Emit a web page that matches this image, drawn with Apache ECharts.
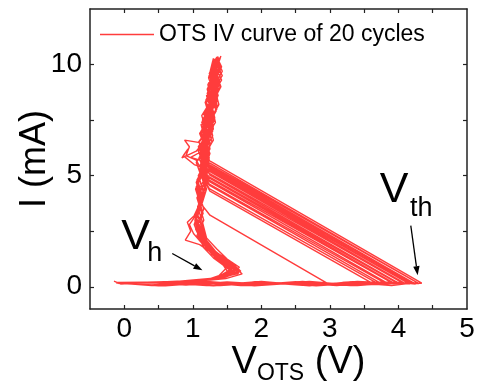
<!DOCTYPE html>
<html>
<head>
<meta charset="utf-8">
<script src="https://cdn.jsdelivr.net/npm/echarts@6/dist/echarts.min.js"></script>
<style>
  html, body { margin: 0; padding: 0; background: #fff; }
  #main { width: 479px; height: 390px; }
</style>
</head>
<body>
<div id="main"></div>
<script>
// [V, I(mA)] per sweep
const c01 = [[-0.15,0.25],[-0.05,0.12],[0.3,0.2],[0.9,0.08],[1.5,0.22],[2.1,0.1],[2.7,0.2],[3.3,0.07],[3.9,0.18],[4.34,0.16],
  [1.26,5.64],[1.12,5.95],[1.22,6.6],[1.15,7.3],[1.27,8.0],[1.21,8.7],[1.33,9.4],[1.27,9.9],[1.37,10.36],
  [1.30,9.7],[1.39,9.1],[1.25,8.3],[1.31,7.5],[1.17,6.6],[1.22,5.7],[1.09,4.9],[1.17,4.1],[1.06,3.3],[1.14,2.6],[1.19,2.0],[1.31,1.5],[1.47,1.1],[1.62,0.74],[1.43,0.45],[1.23,0.31],[0.6,0.21],[-0.08,0.17]];
const c02 = [[0.4,0.06],[1.1,0.2],[1.8,0.05],[2.5,0.18],[3.2,0.09],[3.8,0.22],[4.30,0.14],
  [1.25,5.56],[0.97,5.82],[1.19,6.2],[1.10,6.9],[1.25,7.6],[1.18,8.3],[1.31,9.0],[1.24,9.6],[1.34,10.22],
  [1.41,9.8],[1.28,9.2],[1.35,8.5],[1.20,7.8],[1.27,7.0],[1.12,6.2],[1.19,5.3],[1.05,4.5],[1.13,3.7],[1.03,2.9],[1.11,2.3],[1.23,1.8],[1.39,1.35],[1.56,0.95],[1.66,0.6],[1.36,0.38],[1.18,0.28],[0.5,0.18],[-0.1,0.2]];
const c03 = [[0.7,0.22],[1.4,0.06],[2.1,0.2],[2.8,0.04],[3.5,0.19],[4.28,0.17],
  [1.24,5.50],[1.16,5.8],[1.08,6.3],[1.20,6.8],[1.13,7.4],[1.28,8.1],[1.22,8.8],[1.36,9.5],[1.30,10.28],
  [1.25,9.6],[1.33,8.9],[1.22,8.0],[1.29,7.2],[1.14,6.4],[1.21,5.5],[1.07,4.7],[1.15,3.9],[1.04,3.1],[1.12,2.5],[1.16,1.9],[1.29,1.45],[1.44,1.0],[1.52,0.62],[1.30,0.34],[0.8,0.2],[0.0,0.15]];
const c04 = [[0.6,0.04],[1.3,0.2],[2.0,0.08],[2.7,0.24],[3.4,0.06],[4.0,0.2],[4.25,0.12],
  [1.23,5.45],[1.14,6.0],[1.24,6.7],[1.17,7.4],[1.29,8.2],[1.23,8.9],[1.35,9.6],[1.29,10.1],[1.40,10.3],
  [1.33,9.9],[1.42,9.3],[1.27,8.6],[1.34,7.9],[1.19,7.1],[1.25,6.2],[1.10,5.3],[1.18,4.4],[1.07,3.6],[1.15,2.8],[1.20,2.2],[1.35,1.7],[1.50,1.25],[1.68,0.88],[1.55,0.55],[1.28,0.33],[0.7,0.22],[-0.05,0.19]];
const c05 = [[0.5,0.2],[1.2,0.05],[1.9,0.22],[2.6,0.07],[3.3,0.2],[3.9,0.06],[4.22,0.18],
  [1.24,5.40],[1.17,5.9],[1.09,6.5],[1.23,7.1],[1.16,7.8],[1.30,8.5],[1.25,9.2],[1.38,9.8],[1.32,10.25],
  [1.27,9.5],[1.36,8.8],[1.23,8.1],[1.28,7.3],[1.13,6.5],[1.20,5.6],[1.06,4.8],[1.14,4.0],[1.02,3.2],[0.92,2.9],[0.97,2.5],[0.89,2.1],[1.10,1.9],[1.24,1.6],[1.36,1.2],[1.49,0.85],[1.38,0.5],[1.21,0.32],[0.5,0.19],[-0.1,0.16]];
const c06 = [[0.4,0.08],[1.0,0.24],[1.7,0.06],[2.4,0.2],[3.1,0.05],[3.7,0.22],[4.20,0.15],
  [1.25,5.35],[1.10,5.7],[1.19,6.4],[1.12,7.0],[1.26,7.7],[1.19,8.4],[1.32,9.1],[1.26,9.7],[1.35,10.18],
  [1.42,9.9],[1.30,9.3],[1.37,8.6],[1.21,7.9],[1.28,7.1],[1.13,6.3],[1.20,5.4],[1.06,4.6],[1.14,3.8],[1.05,3.0],[1.13,2.4],[1.21,1.85],[1.37,1.4],[1.58,1.05],[1.70,0.7],[1.47,0.42],[1.25,0.3],[0.6,0.2],[-0.06,0.18]];
const c07 = [[0.6,0.22],[1.3,0.06],[2.0,0.19],[2.7,0.05],[3.4,0.24],[4.17,0.13],
  [1.24,5.30],[1.15,5.75],[1.23,6.5],[1.14,7.2],[1.28,7.9],[1.20,8.6],[1.34,9.3],[1.28,9.8],[1.38,10.32],
  [1.31,9.8],[1.40,9.2],[1.26,8.4],[1.32,7.6],[1.16,6.8],[1.24,5.9],[1.08,5.0],[1.17,4.2],[1.05,3.4],[1.13,2.7],[1.18,2.1],[1.32,1.6],[1.52,1.2],[1.63,0.82],[1.40,0.48],[1.22,0.32],[0.4,0.2],[-0.11,0.19]];
const c08 = [[0.5,0.05],[1.1,0.2],[1.8,0.06],[2.5,0.23],[3.2,0.08],[3.8,0.2],[4.14,0.16],
  [1.24,5.25],[1.02,5.5],[0.86,5.9],[0.93,6.2],[0.84,5.8],[1.05,6.1],[1.18,6.6],[1.12,7.3],[1.27,8.0],[1.21,8.7],[1.34,9.4],[1.30,10.2],
  [1.24,9.5],[1.33,8.8],[1.20,8.0],[1.27,7.2],[1.12,6.4],[1.19,5.5],[1.05,4.7],[1.13,3.9],[1.04,3.1],[1.12,2.5],[1.17,1.95],[1.28,1.5],[1.42,1.05],[1.58,0.7],[1.33,0.38],[0.7,0.21],[-0.02,0.16]];
const c09 = [[0.6,0.18],[1.3,0.04],[2.0,0.22],[2.7,0.07],[3.4,0.21],[4.10,0.14],
  [1.25,5.18],[1.13,5.6],[1.22,6.3],[1.15,7.0],[1.29,7.7],[1.22,8.4],[1.35,9.1],[1.29,9.7],[1.39,10.3],
  [1.34,10.0],[1.43,9.5],[1.28,8.8],[1.35,8.0],[1.18,7.2],[1.26,6.4],[1.11,5.5],[1.19,4.6],[1.08,3.8],[1.16,3.0],[1.07,2.4],[1.19,1.9],[1.33,1.45],[1.54,1.0],[1.66,0.66],[1.45,0.4],[1.24,0.3],[0.5,0.2],[-0.09,0.17]];
const c10 = [[0.5,0.06],[1.2,0.23],[1.9,0.05],[2.6,0.2],[3.3,0.06],[4.06,0.17],
  [1.24,5.10],[1.16,5.5],[1.08,6.1],[1.21,6.8],[1.14,7.5],[1.27,8.2],[1.21,8.9],[1.33,9.6],[1.29,10.15],
  [1.23,9.4],[1.32,8.6],[1.18,7.8],[1.26,7.0],[1.10,6.2],[1.17,5.3],[1.04,4.4],[1.12,3.6],[1.02,2.8],[1.10,2.2],[1.16,1.75],[1.30,1.3],[1.47,0.92],[1.60,0.6],[1.36,0.36],[0.6,0.19],[-0.04,0.18]];
const c11 = [[0.6,0.21],[1.3,0.07],[2.0,0.24],[2.7,0.05],[3.4,0.2],[4.02,0.13],
  [1.25,5.02],[1.18,5.4],[1.25,6.0],[1.16,6.7],[1.30,7.4],[1.23,8.1],[1.36,8.8],[1.30,9.5],[1.41,10.38],
  [1.35,9.9],[1.27,9.2],[1.36,8.4],[1.22,7.6],[1.29,6.8],[1.15,6.0],[1.21,5.1],[1.08,4.3],[1.16,3.5],[1.06,2.8],[1.14,2.2],[1.25,1.7],[1.41,1.3],[1.57,0.95],[1.67,0.62],[1.42,0.4],[1.2,0.29],[0.5,0.2],[-0.12,0.18]];
const c12 = [[0.5,0.04],[1.2,0.21],[1.9,0.07],[2.6,0.22],[3.3,0.05],[3.98,0.18],
  [1.24,4.95],[1.12,5.3],[1.05,5.7],[0.90,5.9],[0.95,6.3],[0.88,6.6],[1.08,6.5],[1.20,7.0],[1.13,7.7],[1.27,8.4],[1.22,9.1],[1.34,9.8],[1.31,10.22],
  [1.26,9.6],[1.34,8.9],[1.21,8.1],[1.28,7.3],[1.13,6.5],[1.22,5.6],[1.07,4.8],[1.15,4.0],[1.04,3.2],[1.12,2.6],[1.18,2.0],[1.34,1.55],[1.48,1.15],[1.56,0.8],[1.37,0.45],[1.21,0.3],[0.6,0.19],[-0.07,0.17]];
const c13 = [[0.6,0.23],[1.3,0.05],[2.0,0.2],[2.7,0.08],[3.4,0.23],[3.94,0.15],
  [1.25,4.88],[1.14,5.3],[1.23,6.0],[1.16,6.7],[1.28,7.4],[1.21,8.1],[1.34,8.8],[1.28,9.5],[1.37,10.12],
  [1.43,9.7],[1.31,9.0],[1.38,8.2],[1.23,7.4],[1.30,6.6],[1.14,5.8],[1.21,4.9],[1.07,4.1],[1.15,3.3],[1.05,2.7],[1.13,2.1],[1.22,1.65],[1.39,1.25],[1.61,0.9],[1.72,0.58],[1.48,0.37],[1.26,0.3],[0.7,0.21],[-0.1,0.16]];
const c14 = [[0.5,0.07],[1.2,0.22],[1.9,0.04],[2.6,0.19],[3.3,0.07],[3.90,0.19],
  [1.24,4.80],[1.17,5.2],[1.09,5.8],[1.22,6.5],[1.15,7.2],[1.29,7.9],[1.23,8.6],[1.36,9.3],[1.30,9.9],[1.40,10.28],
  [1.33,9.7],[1.41,9.0],[1.27,8.2],[1.33,7.4],[1.17,6.6],[1.24,5.7],[1.09,4.9],[1.17,4.1],[1.06,3.3],[1.14,2.7],[1.20,2.1],[1.33,1.6],[1.49,1.2],[1.64,0.85],[1.52,0.52],[1.27,0.32],[0.5,0.18],[-0.05,0.19]];
const c15 = [[0.6,0.2],[1.3,0.06],[2.0,0.23],[2.7,0.06],[3.4,0.2],[3.85,0.14],
  [1.25,4.72],[1.13,5.1],[1.21,5.8],[1.14,6.5],[1.27,7.2],[1.20,7.9],[1.32,8.6],[1.26,9.3],[1.36,9.9],[1.31,10.2],
  [1.25,9.5],[1.34,8.8],[1.20,8.0],[1.27,7.2],[1.12,6.4],[1.20,5.5],[1.06,4.6],[1.14,3.8],[1.03,3.0],[1.11,2.4],[1.17,1.9],[1.28,1.45],[1.43,1.05],[1.55,0.72],[1.34,0.4],[0.6,0.2],[-0.08,0.18]];
const c16 = [[0.5,0.05],[1.2,0.24],[1.9,0.08],[2.6,0.21],[3.3,0.05],[3.80,0.17],
  [1.24,4.62],[1.16,5.0],[1.24,5.7],[1.17,6.4],[1.30,7.1],[1.24,7.8],[1.36,8.5],[1.31,9.2],[1.42,9.9],[1.35,10.34],
  [1.29,9.8],[1.37,9.1],[1.24,8.3],[1.30,7.5],[1.15,6.7],[1.23,5.8],[1.08,5.0],[1.16,4.2],[1.05,3.4],[1.13,2.8],[1.06,2.3],[1.20,1.85],[1.36,1.4],[1.55,1.0],[1.69,0.7],[1.44,0.44],[1.23,0.31],[0.5,0.2],[-0.1,0.17]];
const c17 = [[0.6,0.22],[1.3,0.04],[2.0,0.2],[2.7,0.06],[3.3,0.22],[3.75,0.14],
  [1.25,4.55],[1.12,5.0],[1.05,5.6],[1.19,6.2],[1.12,6.9],[1.26,7.6],[1.20,8.3],[1.33,9.0],[1.27,9.6],[1.36,10.1],
  [1.41,9.6],[1.29,8.9],[1.36,8.1],[1.21,7.3],[1.28,6.5],[1.13,5.7],[1.20,4.8],[1.06,4.0],[1.14,3.2],[1.04,2.6],[1.12,2.1],[1.24,1.7],[1.40,1.3],[1.59,0.92],[1.46,0.56],[1.24,0.33],[0.6,0.21],[-0.06,0.17]];
const c18 = [[0.5,0.06],[1.2,0.21],[1.9,0.05],[2.6,0.24],[3.2,0.07],[3.68,0.18],
  [1.24,4.42],[1.15,4.9],[1.23,5.6],[1.16,6.3],[1.29,7.0],[1.22,7.7],[1.35,8.4],[1.29,9.1],[1.39,9.8],[1.34,10.26],
  [1.28,9.6],[1.37,8.9],[1.23,8.1],[1.29,7.3],[1.14,6.5],[1.21,5.6],[1.07,4.8],[1.15,4.0],[1.04,3.2],[0.95,2.8],[1.01,2.4],[1.12,2.0],[1.26,1.55],[1.45,1.15],[1.62,0.78],[1.40,0.46],[1.22,0.3],[0.5,0.19],[-0.09,0.16]];
const c19 = [[0.6,0.2],[1.3,0.07],[2.0,0.22],[2.7,0.04],[3.2,0.2],[3.62,0.15],
  [1.25,4.30],[1.18,4.7],[1.10,5.3],[1.22,6.0],[1.15,6.7],[1.28,7.4],[1.22,8.1],[1.35,8.8],[1.29,9.5],[1.38,10.2],
  [1.32,9.7],[1.40,9.0],[1.26,8.2],[1.33,7.4],[1.17,6.6],[1.24,5.7],[1.09,4.9],[1.17,4.1],[1.06,3.3],[1.14,2.6],[1.19,2.0],[1.32,1.5],[1.50,1.1],[1.65,0.76],[1.50,0.5],[1.27,0.32],[0.6,0.2],[-0.07,0.17]];
const c20 = [[0.5,0.06],[1.2,0.22],[1.9,0.05],[2.5,0.2],[2.97,0.14],
  [1.25,3.22],[1.13,3.7],[1.20,4.4],[1.12,5.1],[1.24,5.8],[1.17,6.5],[1.30,7.2],[1.24,7.9],[1.35,8.6],[1.29,9.3],[1.40,10.0],[1.34,10.3],
  [1.27,9.6],[1.36,8.9],[1.22,8.1],[1.28,7.3],[1.14,6.5],[1.21,5.6],[1.06,4.8],[1.14,4.0],[1.04,3.2],[1.12,2.6],[1.17,2.0],[1.29,1.5],[1.44,1.1],[1.57,0.78],[1.36,0.42],[1.2,0.3],[0.5,0.19],[-0.1,0.18]];

const cycles = [c01, c02, c03, c04, c05, c06, c07, c08, c09, c10,
                c11, c12, c13, c14, c15, c16, c17, c18, c19, c20];

const xTicks = [0, 0.5, 1, 1.5, 2, 2.5, 3, 3.5, 4, 4.5];
const xLabels = [0, 1, 2, 3, 4, 5];
const yTicks = [0, 2.5, 5, 7.5, 10];
const yLabels = [0, 5, 10];

const seriesName = 'OTS IV curve of 20 cycles';
// arrows: [from, to] in data units
const vhArrow = [[0.70, 1.50], [1.14, 0.74]];
const vthArrow = [[4.18, 2.75], [4.28, 0.52]];
// label anchors: [left, baseline] in data units, main letter then subscript
const vhMain = [-0.044, 1.72];
const vhSub = [0.336, 1.145];
const vthMain = [3.728, 3.82];
const vthSub = [4.167, 3.195];

const FONT = 'Liberation Sans, Arial, sans-serif';
const RED = '#ff3c3c';

const frameLine = { show: true, onZero: false, lineStyle: { color: '#222', width: 1.5 } };

const chart = echarts.init(document.getElementById('main'));

const option = {
  animation: false,
  backgroundColor: '#fff',
  grid: { left: 90, right: 12, top: 9, bottom: 79 },
  legend: {
    data: [seriesName],
    left: 95,
    top: 18,
    icon: 'rect',
    itemWidth: 54,
    itemHeight: 1.3,
    textStyle: { fontSize: 23, color: '#000', fontFamily: FONT }
  },
  xAxis: [
    {
      type: 'value', min: -0.5, max: 5, position: 'bottom',
      axisLine: frameLine,
      axisTick: { inside: true, length: 4, customValues: xTicks, lineStyle: { color: '#222', width: 1.2 } },
      axisLabel: { customValues: xLabels, fontSize: 28, color: '#000', fontFamily: FONT, margin: 6 },
      splitLine: { show: false },
      name: '{a|V}{b|OTS}{a| (V)}',
      nameLocation: 'middle',
      nameGap: 35,
      nameMoveOverlap: false,
      nameTextStyle: {
        padding: [0, 0, 0, 40],
        rich: {
          a: { fontSize: 38, color: '#000', fontFamily: FONT },
          b: { fontSize: 23, color: '#000', fontFamily: FONT, verticalAlign: 'bottom', padding: [0, 0, -3, 0] }
        }
      }
    },
    {
      type: 'value', min: -0.5, max: 5, position: 'top',
      axisLine: frameLine,
      axisTick: { inside: true, length: 4, customValues: xTicks, lineStyle: { color: '#222', width: 1.2 } },
      axisLabel: { show: false },
      splitLine: { show: false }
    }
  ],
  yAxis: [
    {
      type: 'value', min: -1, max: 12.5, position: 'left',
      axisLine: frameLine,
      axisTick: { inside: true, length: 4, customValues: yTicks, lineStyle: { color: '#222', width: 1.2 } },
      axisLabel: { customValues: yLabels, fontSize: 28, color: '#000', fontFamily: FONT, margin: 8 },
      splitLine: { show: false },
      name: 'I (mA)',
      nameLocation: 'middle',
      nameGap: 37,
      nameMoveOverlap: false,
      nameTextStyle: { fontSize: 36, color: '#000', fontFamily: FONT }
    },
    {
      type: 'value', min: -1, max: 12.5, position: 'right',
      axisLine: frameLine,
      axisTick: { inside: true, length: 4, customValues: yTicks, lineStyle: { color: '#222', width: 1.2 } },
      axisLabel: { show: false },
      splitLine: { show: false }
    }
  ],
  series: [
    {
      name: seriesName,
      type: 'line',
      xAxisIndex: 0,
      yAxisIndex: 0,
      symbol: 'none',
      data: [].concat(...cycles),
      lineStyle: { color: RED, width: 1.4 },
      itemStyle: { color: RED }
    }
  ]
};

chart.setOption(option);

function toPx(p) {
  return chart.convertToPixel({ gridIndex: 0 }, p);
}

function arrow(pair) {
  const a = toPx(pair[0]);
  const b = toPx(pair[1]);
  const dx = b[0] - a[0], dy = b[1] - a[1];
  const len = Math.sqrt(dx * dx + dy * dy);
  const ux = dx / len, uy = dy / len;
  const hl = 9, hw = 3.2;
  const base = [b[0] - ux * hl, b[1] - uy * hl];
  return [
    { type: 'line', shape: { x1: a[0], y1: a[1], x2: base[0], y2: base[1] },
      style: { stroke: '#000', lineWidth: 1.3 }, z: 100 },
    { type: 'polygon',
      shape: { points: [b, [base[0] - uy * hw, base[1] + ux * hw], [base[0] + uy * hw, base[1] - ux * hw]] },
      style: { fill: '#000' }, z: 100 }
  ];
}

// text placed by its baseline: 'bottom' box edge sits ~0.23em under the baseline
function label(pos, text, size) {
  const p = toPx(pos);
  return {
    type: 'text', x: p[0], y: p[1] + size * 0.23, z: 100,
    style: { text: text, fontSize: size, fill: '#000', fontFamily: FONT, verticalAlign: 'bottom' }
  };
}

chart.setOption({
  graphic: [].concat(
    arrow(vhArrow), arrow(vthArrow),
    [label(vhMain, 'V', 43), label(vhSub, 'h', 27), label(vthMain, 'V', 43), label(vthSub, 'th', 27)]
  )
});
</script>
</body>
</html>
